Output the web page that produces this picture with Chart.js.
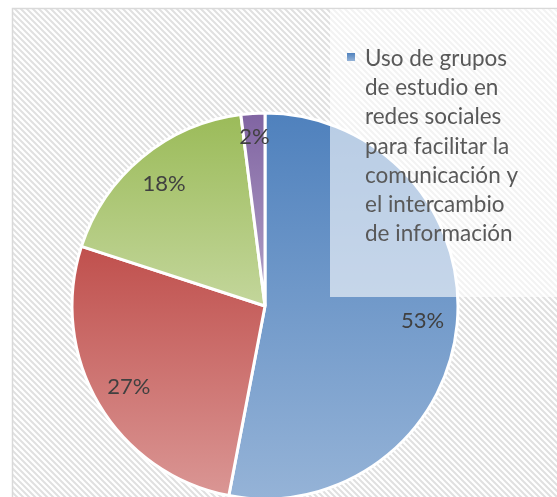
<!DOCTYPE html>
<html>
<head>
<meta charset="utf-8">
<script src="https://cdn.jsdelivr.net/npm/chart.js"></script>
<style>
  html, body { margin: 0; padding: 0; background: #fff; width: 557px; height: 497px; overflow: hidden; }
  #strip { position: absolute; left: 0; top: 0; width: 3px; height: 497px; background: #000; }
  #pie { position: absolute; left: 0; top: 0; }
</style>
</head>
<body>
<div id="strip"></div>
<canvas id="pie" width="600" height="540"></canvas>
<script>
// only the first category is visible in the (cropped) legend
const categories = [
  ['Uso de grupos', 'de estudio en', 'redes sociales', 'para facilitar la', 'comunicación y', 'el intercambio', 'de información'],
  '', '', ''
];
const shares = [53, 27, 18, 2];
const pctLabels = ['53%', '27%', '18%', '2%'];
const topColors = ['#4f81bd', '#c0504d', '#9bbb59', '#8064a2'];
const bottomColors = ['#95b3d7', '#da9694', '#c3d69b', '#b3a2c7'];

const BORDER = 3;

function sliceAngles(i) {
  const total = shares.reduce((a, b) => a + b, 0);
  let start = -Math.PI / 2;
  for (let k = 0; k < i; k++) start += shares[k] / total * Math.PI * 2;
  return [start, start + shares[i] / total * Math.PI * 2];
}

// vertical gradient over each slice's own height, like the office fill
function sliceFill(c) {
  const chart = c.chart, area = chart.chartArea, i = c.dataIndex;
  if (!area || i === undefined) return topColors[i || 0];
  const cx = (area.left + area.right) / 2, cy = (area.top + area.bottom) / 2;
  const r = (Math.min(area.right - area.left, area.bottom - area.top) - BORDER) / 2;
  const [s, e] = sliceAngles(i);
  const ys = [cy, cy + r * Math.sin(s), cy + r * Math.sin(e)];
  [-Math.PI / 2, Math.PI / 2, Math.PI * 1.5].forEach(a => { if (a >= s && a <= e) ys.push(cy + r * Math.sin(a)); });
  const g = chart.ctx.createLinearGradient(0, Math.min(...ys), 0, Math.max(...ys));
  g.addColorStop(0, topColors[i]);
  g.addColorStop(1, bottomColors[i]);
  return g;
}

function hatch(ctx) {
  const t = document.createElement('canvas');
  t.width = 6; t.height = 6;
  const p = t.getContext('2d');
  p.fillStyle = '#fff'; p.fillRect(0, 0, 6, 6);
  p.strokeStyle = '#e0e0e0'; p.lineWidth = 2;
  p.beginPath();
  p.moveTo(-3, -3); p.lineTo(9, 9);
  p.moveTo(-3, 3); p.lineTo(3, 9);
  p.moveTo(3, -3); p.lineTo(9, 3);
  p.stroke();
  return ctx.createPattern(t, 'repeat');
}

const backdrop = {
  id: 'backdrop',
  beforeDraw(chart) {
    const ctx = chart.ctx;
    ctx.save();
    ctx.fillStyle = '#fff';
    ctx.fillRect(0, 0, chart.width, chart.height);
    ctx.fillStyle = hatch(ctx);
    ctx.fillRect(13, 9, chart.width, chart.height);
    ctx.strokeStyle = '#d9d9d9'; ctx.lineWidth = 1.5;
    ctx.strokeRect(12.5, 8.5, chart.width, chart.height);
    ctx.restore();
  }
};

const overlay = {
  id: 'overlay',
  afterDatasetsDraw(chart) {
    const ctx = chart.ctx;
    const meta = chart.getDatasetMeta(0);
    ctx.save();
    // legend box (semi transparent, drawn over the pie)
    ctx.fillStyle = 'rgba(255,255,255,0.6)';
    ctx.fillRect(330, 9, chart.width, 288);

    // percentage labels; thin slices get pushed a bit further out
    ctx.font = '22px Lato';
    ctx.fillStyle = '#404040';
    ctx.textAlign = 'center';
    ctx.textBaseline = 'middle';
    meta.data.forEach((arc, i) => {
      const mid = (arc.startAngle + arc.endAngle) / 2;
      const rr = arc.outerRadius * (arc.endAngle - arc.startAngle < 0.3 ? 0.88 : 0.82);
      ctx.fillText(pctLabels[i], arc.x + rr * Math.cos(mid), arc.y + rr * Math.sin(mid));
    });

    // legend entry
    const lines = chart.data.labels[0];
    const g = ctx.createLinearGradient(0, 53, 0, 61);
    g.addColorStop(0, topColors[0]); g.addColorStop(1, bottomColors[0]);
    ctx.fillStyle = g;
    ctx.fillRect(347, 53, 8, 8);
    ctx.font = '22.5px Lato';
    ctx.fillStyle = '#595959';
    ctx.textAlign = 'left';
    ctx.textBaseline = 'alphabetic';
    lines.forEach((ln, k) => ctx.fillText(ln, 365, 66 + k * 29.2));
    ctx.restore();
  }
};

new Chart(document.getElementById('pie'), {
  type: 'pie',
  data: {
    labels: categories,
    datasets: [{
      data: shares,
      backgroundColor: sliceFill,
      borderColor: '#fff',
      borderWidth: BORDER
    }]
  },
  options: {
    responsive: false,
    animation: false,
    layout: { padding: { left: 70.5, top: 111.5, right: 140.5, bottom: 39.5 } },
    plugins: { legend: { display: false }, tooltip: { enabled: false } }
  },
  plugins: [backdrop, overlay]
});
</script>
</body>
</html>
